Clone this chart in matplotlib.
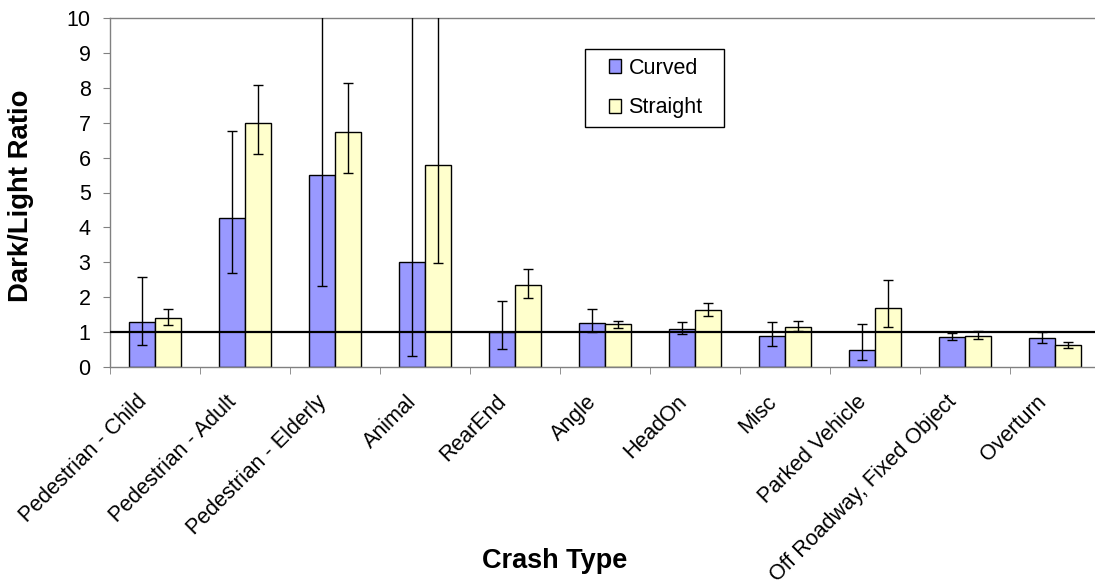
import matplotlib
matplotlib.use("Agg")
import matplotlib.pyplot as plt
import matplotlib.transforms as mtransforms
from matplotlib.patches import Rectangle
import numpy as np

categories = ["Pedestrian - Child", "Pedestrian - Adult", "Pedestrian - Elderly",
              "Animal", "RearEnd", "Angle", "HeadOn", "Misc", "Parked Vehicle",
              "Off Roadway, Fixed Object", "Overturn"]

curved = [1.29, 4.26, 5.50, 3.01, 1.00, 1.26, 1.09, 0.89, 0.49, 0.85, 0.82]
curved_low = [0.62, 2.68, 2.32, 0.31, 0.53, 0.99, 0.94, 0.59, 0.19, 0.77, 0.70]
curved_high = [2.58, 6.77, 10.6, 10.6, 1.89, 1.66, 1.28, 1.29, 1.23, 0.96, 0.99]

straight = [1.39, 7.00, 6.72, 5.80, 2.35, 1.23, 1.62, 1.16, 1.68, 0.89, 0.63]
straight_low = [1.20, 6.10, 5.56, 2.98, 1.99, 1.12, 1.46, 1.02, 1.16, 0.79, 0.54]
straight_high = [1.66, 8.07, 8.15, 10.6, 2.82, 1.32, 1.82, 1.32, 2.48, 1.02, 0.72]

yticks = list(range(0, 11))

plt.rcParams["font.family"] = ["Liberation Sans", "DejaVu Sans"]

W, H = 1095, 586
fig = plt.figure(figsize=(W / 100, H / 100), dpi=100)
ax = fig.add_axes([110 / W, (H - 367) / H, 990 / W, 349 / H])

n = len(categories)
centers = np.arange(n) + 0.5
bw = 0.289

curved = np.array(curved)
straight = np.array(straight)
c_err = [curved - np.array(curved_low), np.array(curved_high) - curved]
s_err = [straight - np.array(straight_low), np.array(straight_high) - straight]

h1 = ax.bar(centers - bw / 2, curved, bw, color="#9999FF", edgecolor="black",
            linewidth=1.0, label="Curved", zorder=2)
h2 = ax.bar(centers + bw / 2, straight, bw, color="#FFFFCC", edgecolor="black",
            linewidth=1.0, label="Straight", zorder=2)
ax.errorbar(centers - bw / 2, curved, yerr=c_err, fmt="none", ecolor="black",
            elinewidth=1.0, capsize=3.3, capthick=1.0, zorder=3)
ax.errorbar(centers + bw / 2, straight, yerr=s_err, fmt="none", ecolor="black",
            elinewidth=1.0, capsize=3.3, capthick=1.0, zorder=3)

# reference line at ratio 1
ax.axhline(1, color="black", linewidth=1.6, zorder=4)

ax.set_xlim(0, n)
ax.set_ylim(0, 10)
ax.set_yticks(yticks)
ax.set_yticklabels([str(t) for t in yticks], fontsize=15.5)

ax.set_xticks(centers)
ax.set_xticklabels(categories, rotation=45, ha="right", fontsize=15.5)
ax.set_xticks(np.arange(n + 1), minor=True)
ax.tick_params(axis="x", which="major", length=0, pad=17.5)
ax.tick_params(axis="x", which="minor", length=5, color="#808080", direction="out")
ax.tick_params(axis="y", length=5, color="#808080", direction="out", pad=9)
shift = mtransforms.ScaledTranslation(-4 / 100, 0, fig.dpi_scale_trans)
for lbl in ax.get_xticklabels():
    lbl.set_transform(lbl.get_transform() + shift)

for side in ["left", "bottom", "top"]:
    ax.spines[side].set_color("#808080")
    ax.spines[side].set_linewidth(1.0)
ax.spines["right"].set_visible(False)

fig.text(21 / W, 1 - 196 / H, "Dark/Light Ratio", rotation=90, fontsize=19.8,
         fontweight="bold", ha="center", va="center")
fig.text(555 / W, 1 - 561 / H, "Crash Type", fontsize=19.5,
         fontweight="bold", ha="center", va="center")

# legend box
fig.patches.append(Rectangle((585 / W, 1 - 127 / H), 139 / W, 78 / H,
                             transform=fig.transFigure, facecolor="white",
                             edgecolor="black", linewidth=1.0, zorder=5))
leg = fig.legend([h1, h2], ["Curved", "Straight"], loc="center left",
                 bbox_to_anchor=(609 / W, 1 - 88 / H),
                 bbox_transform=fig.transFigure, fontsize=15.5, frameon=False,
                 handlelength=0.58, handleheight=0.58, handletextpad=0.32,
                 labelspacing=0.88, borderpad=0, borderaxespad=0)
leg.set_zorder(6)

fig.savefig("out.png", dpi=100)
